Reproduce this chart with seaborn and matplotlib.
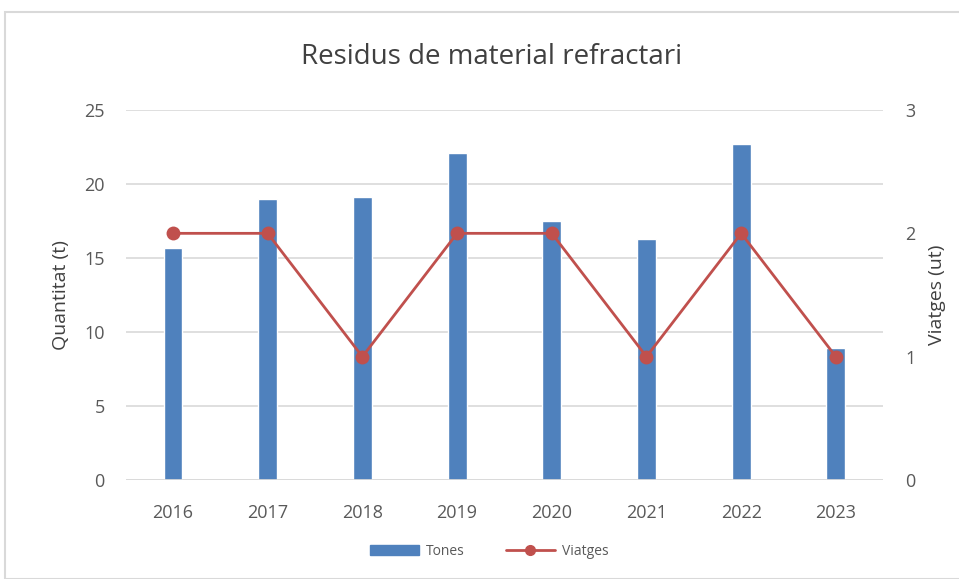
import matplotlib
matplotlib.use("Agg")
import matplotlib.pyplot as plt
import matplotlib.patches as mpatches
from matplotlib.lines import Line2D
import seaborn as sns
import pandas as pd

years = ["2016", "2017", "2018", "2019", "2020", "2021", "2022", "2023"]
tones = [15.7, 19.0, 19.1, 22.1, 17.5, 16.3, 22.7, 8.9]
viatges = [2, 2, 1, 2, 2, 1, 2, 1]

BLUE = "#4f81bd"
RED = "#c0504d"
TXT = "#595959"

sns.set_theme(style="white")
plt.rcParams["font.family"] = ["Open Sans", "DejaVu Sans"]

df = pd.DataFrame({"year": years, "tones": tones, "viatges": viatges})

fig = plt.figure(figsize=(9.59, 5.79), dpi=100)
ax = fig.add_axes([0.131, 0.171, 0.790, 0.639])

sns.barplot(data=df, x="year", y="tones", color=BLUE, width=0.2, saturation=1, ax=ax)
ax.set_ylim(0, 25)
ax.set_yticks([0, 5, 10, 15, 20, 25])
ax.set_xlim(-0.5, 7.5)
ax.yaxis.grid(True, color="#d9d9d9", linewidth=1.2)
ax.set_axisbelow(True)
for s in ax.spines.values():
    s.set_visible(False)
ax.axhline(0, color="#d9d9d9", linewidth=1.2)
ax.set_xlabel("")
ax.set_ylabel("Quantitat (t)", fontsize=14, color="#404040", labelpad=10)
ax.tick_params(axis="both", length=0, labelsize=13, labelcolor=TXT)
ax.tick_params(axis="x", pad=17)
ax.tick_params(axis="y", pad=15)

ax2 = ax.twinx()
sns.lineplot(x=list(range(len(years))), y=viatges, color=RED, marker="o", markersize=10,
             markeredgewidth=0, linewidth=2, ax=ax2)
ax2.set_ylim(0, 3)
ax2.set_yticks([0, 1, 2, 3])
for s in ax2.spines.values():
    s.set_visible(False)
ax2.set_ylabel("Viatges (ut)", fontsize=14, color="#404040", labelpad=9)
ax2.tick_params(axis="y", length=0, labelsize=13, labelcolor=TXT, pad=16)

fig.suptitle("Residus de material refractari", x=0.513, y=0.925, fontsize=20, color="#404040")

handles = [mpatches.Patch(color=BLUE, label="Tones"),
           Line2D([], [], color=RED, marker="o", markersize=7, linewidth=2, label="Viatges")]
fig.legend(handles=handles, loc="center", bbox_to_anchor=(0.51, 0.048), ncol=2, frameon=False,
           fontsize=10, labelcolor=TXT, handlelength=3.5, columnspacing=3, handletextpad=0.5)

fig.add_artist(mpatches.Rectangle((5 / 959, 0), 1.2, 1 - 12 / 579, transform=fig.transFigure,
                                  fill=False, edgecolor="#d9d9d9", linewidth=1.5))

fig.savefig("out.png", dpi=100, facecolor="white")
